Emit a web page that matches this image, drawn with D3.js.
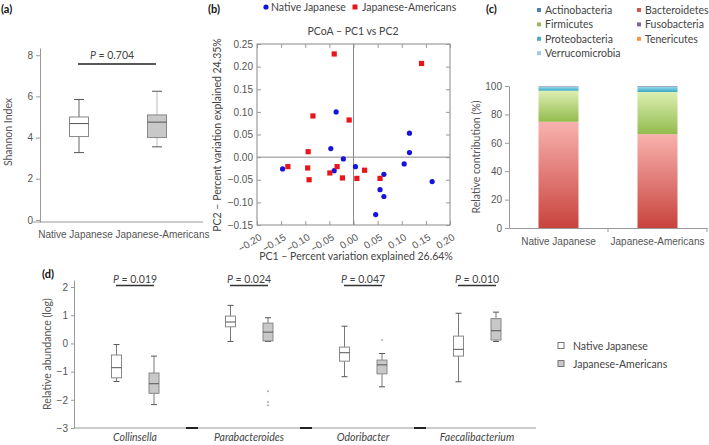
<!DOCTYPE html>
<html>
<head>
<meta charset="utf-8">
<script src="https://cdn.jsdelivr.net/npm/d3@7"></script>
<style>
  body { margin: 0; background: #fff; }
  svg { font-family: Lato, "Open Sans", sans-serif; }
  .axis text { font-size: 10px; fill: #555; }
  .axis path, .axis line { stroke: #999; }
</style>
</head>
<body>
<script>
// ---- data ----
var groups = ["Native Japanese", "Japanese-Americans"];

// (a) Shannon index: [min, q1, median, q3, max]
var shannonStats = [[3.27, 4.05, 4.68, 5.0, 5.85], [3.55, 4.0, 4.75, 5.1, 6.25]];
var shannonTicks = [0, 2, 4, 6, 8];
var shannonP = "0.704";

// (b) PCoA points [PC1, PC2]
var pcoaNative = [[-0.036, 0.100], [0.116, 0.053], [0.116, 0.010], [-0.047, 0.019], [-0.021, -0.004],
  [-0.147, -0.026], [-0.040, -0.030], [0.004, -0.021], [0.105, -0.015], [0.063, -0.038],
  [0.163, -0.054], [0.055, -0.072], [0.063, -0.087], [0.046, -0.127]];
var pcoaJA = [[-0.040, 0.228], [0.141, 0.207], [-0.084, 0.091], [-0.009, 0.082], [-0.094, 0.012],
  [-0.136, -0.021], [-0.095, -0.024], [-0.034, -0.021], [-0.049, -0.035], [0.023, -0.029],
  [-0.092, -0.050], [-0.023, -0.046], [0.007, -0.047], [0.055, -0.047]];
var pcoaXTicks = [-0.20, -0.15, -0.10, -0.05, 0.00, 0.05, 0.10, 0.15, 0.20];
var pcoaYTicks = [-0.15, -0.10, -0.05, 0.00, 0.05, 0.10, 0.15, 0.20, 0.25];

// (c) phylum contribution (%)
var phylaLegend = ["Actinobacteria", "Bacteroidetes", "Firmicutes", "Fusobacteria", "Proteobacteria", "Tenericutes", "Verrucomicrobia"];
var phylaStack = ["Bacteroidetes", "Firmicutes", "Proteobacteria", "Actinobacteria", "Verrucomicrobia", "Fusobacteria", "Tenericutes"];
var contribNative = [74.8, 21.9, 2.6, 0.3, 0.2, 0.1, 0.1];
var contribJA = [66.1, 29.7, 3.5, 0.4, 0.1, 0.1, 0.1];
var contribTicks = [0, 20, 40, 60, 80, 100];
var phylumColors = {
  Actinobacteria: "#4f81bd", Bacteroidetes: "#d9534f", Firmicutes: "#9bbb59", Fusobacteria: "#8064a2",
  Proteobacteria: "#4bacc6", Tenericutes: "#f79646", Verrucomicrobia: "#a5c5e8"
};

// (d) genus abundance (log): [min, q1, median, q3, max]
var genera = ["Collinsella", "Parabacteroides", "Odoribacter", "Faecalibacterium"];
var genusNative = [[-1.35, -1.22, -0.86, -0.41, -0.04], [0.07, 0.59, 0.76, 0.97, 1.35],
  [-1.18, -0.63, -0.33, -0.13, 0.61], [-1.36, -0.45, -0.21, 0.26, 1.07]];
var genusJA = [[-2.17, -1.77, -1.43, -1.05, -0.45], [0.07, 0.09, 0.40, 0.72, 0.91],
  [-1.54, -1.08, -0.76, -0.59, -0.36], [0.07, 0.12, 0.45, 0.88, 1.11]];
var genusOutliersJA = [[], [-1.70, -2.08, -2.19], [0.12], []];
var genusP = ["0.019", "0.024", "0.047", "0.010"];
var genusTicks = [-3, -2, -1, 0, 1, 2];

// ---- svg ----
var svg = d3.select("body").append("svg").attr("width", 709).attr("height", 445);

var defs = svg.append("defs");
function grad(id, top, bottom) {
  var g = defs.append("linearGradient").attr("id", id).attr("x1", 0).attr("x2", 0).attr("y1", 0).attr("y2", 1);
  g.append("stop").attr("offset", "0%").attr("stop-color", top);
  g.append("stop").attr("offset", "100%").attr("stop-color", bottom);
}
grad("g-Bacteroidetes", "#f8b2ae", "#c9433d");
grad("g-Firmicutes", "#dcefb2", "#93bb4e");
grad("g-Proteobacteria", "#8fd8ef", "#3aa8c4");

function panelLabel(x, y, t) {
  svg.append("text").attr("x", x).attr("y", y).attr("font-size", 11).attr("font-weight", "bold")
    .attr("fill", "#111").text(t);
}
panelLabel(1, 13, "(a)");
panelLabel(208, 13, "(b)");
panelLabel(486, 13, "(c)");
panelLabel(42, 278, "(d)");

function drawBox(g, cx, w, capW, s, fill, lineCol) {
  g.append("line").attr("x1", cx).attr("x2", cx).attr("y1", s.y(s.v[4])).attr("y2", s.y(s.v[3])).attr("stroke", lineCol);
  g.append("line").attr("x1", cx).attr("x2", cx).attr("y1", s.y(s.v[1])).attr("y2", s.y(s.v[0])).attr("stroke", lineCol);
  g.append("line").attr("x1", cx - capW / 2).attr("x2", cx + capW / 2).attr("y1", s.y(s.v[4])).attr("y2", s.y(s.v[4])).attr("stroke", "#555");
  g.append("line").attr("x1", cx - capW / 2).attr("x2", cx + capW / 2).attr("y1", s.y(s.v[0])).attr("y2", s.y(s.v[0])).attr("stroke", "#555");
  g.append("rect").attr("x", cx - w / 2).attr("width", w)
    .attr("y", s.y(s.v[3])).attr("height", s.y(s.v[1]) - s.y(s.v[3]))
    .attr("fill", fill).attr("stroke", "#888");
  g.append("line").attr("x1", cx - w / 2).attr("x2", cx + w / 2).attr("y1", s.y(s.v[2])).attr("y2", s.y(s.v[2])).attr("stroke", "#555");
}

// ---- (a) ----
var ya = d3.scaleLinear().domain([-0.1, 8.35]).range([222, 48]);
var xa = d3.scalePoint().domain(groups).range([40, 200]).padding(0.5);
var ga = svg.append("g");
ga.append("g").attr("class", "axis").attr("transform", "translate(40,0)")
  .call(d3.axisLeft(ya).tickValues(shannonTicks).tickSize(4).tickSizeOuter(0));
ga.append("g").attr("class", "axis").attr("transform", "translate(0,222)")
  .call(d3.axisBottom(xa).tickSize(0).tickPadding(9))
  .call(function (s) {
    s.select(".domain").attr("d", "M32,0H203");
    s.selectAll(".tick text").attr("dx", function (d, i) { return i ? 2 : -5; });
  });
shannonStats.forEach(function (v, i) {
  drawBox(ga, xa(groups[i]) - 1 - 2 * i, 19, 10, { y: ya, v: v }, i ? "#c8c8c8" : "#fff", i ? "#bbb" : "#666");
});
ga.append("line").attr("x1", xa(groups[0]) - 2).attr("x2", xa(groups[1]) - 4)
  .attr("y1", 64).attr("y2", 64).attr("stroke", "#222").attr("stroke-width", 1.3);
var pa = ga.append("text").attr("x", 112).attr("y", 59).attr("text-anchor", "middle").attr("font-size", 10.5).attr("fill", "#444");
pa.append("tspan").attr("font-style", "italic").text("P");
pa.append("tspan").text(" = " + shannonP);
ga.append("text").attr("transform", "translate(12,132) rotate(-90)").attr("text-anchor", "middle")
  .attr("font-size", 10.5).attr("fill", "#555").text("Shannon Index");

// ---- (b) ----
var xb = d3.scaleLinear().domain([-0.2, 0.2]).range([257, 450]);
var yb = d3.scaleLinear().domain([-0.15, 0.25]).range([225, 44]);
var gb = svg.append("g");
var fmt = d3.format(".2f");
gb.append("rect").attr("x", 257).attr("y", 44).attr("width", 193).attr("height", 181).attr("fill", "none").attr("stroke", "#888");
gb.append("line").attr("x1", xb(0)).attr("x2", xb(0)).attr("y1", 44).attr("y2", 225).attr("stroke", "#888");
gb.append("line").attr("x1", 257).attr("x2", 450).attr("y1", yb(0)).attr("y2", yb(0)).attr("stroke", "#888");
function inward(sel) { sel.select(".domain").remove(); sel.selectAll(".tick line").attr("stroke", "#222"); }
gb.append("g").attr("class", "axis").attr("transform", "translate(257,0)")
  .call(d3.axisLeft(yb).tickValues(pcoaYTicks).tickSize(-4).tickPadding(4).tickFormat(fmt)).call(inward);
gb.append("g").attr("class", "axis").attr("transform", "translate(450,0)")
  .call(d3.axisRight(yb).tickValues(pcoaYTicks).tickSize(-4).tickFormat("")).call(inward);
gb.append("g").attr("class", "axis").attr("transform", "translate(0,44)")
  .call(d3.axisTop(xb).tickValues(pcoaXTicks).tickSize(-4).tickFormat("")).call(inward);
var xbAxis = gb.append("g").attr("class", "axis").attr("transform", "translate(0,225)")
  .call(d3.axisBottom(xb).tickValues(pcoaXTicks).tickSize(-4).tickFormat(fmt)).call(inward);
xbAxis.selectAll(".tick text").attr("text-anchor", "end").attr("dy", 0).attr("y", 0)
  .attr("transform", "translate(5,14) rotate(-32)");
gb.selectAll(".pt-n").data(pcoaNative).enter().append("circle")
  .attr("cx", function (d) { return xb(d[0]); }).attr("cy", function (d) { return yb(d[1]); })
  .attr("r", 2.6).attr("fill", "#1414dc");
gb.selectAll(".pt-j").data(pcoaJA).enter().append("rect")
  .attr("x", function (d) { return xb(d[0]) - 2.6; }).attr("y", function (d) { return yb(d[1]) - 2.6; })
  .attr("width", 5.2).attr("height", 5.2).attr("fill", "#e8161c");
gb.append("text").attr("x", 353).attr("y", 35).attr("text-anchor", "middle").attr("font-size", 10.5).attr("fill", "#444")
  .text("PCoA \u2013 PC1 vs PC2");
gb.append("text").attr("x", 356).attr("y", 260).attr("text-anchor", "middle").attr("font-size", 10.5).attr("fill", "#444")
  .text("PC1 \u2013 Percent variation explained 26.64%");
gb.append("text").attr("transform", "translate(221,135) rotate(-90)").attr("text-anchor", "middle")
  .attr("font-size", 10.5).attr("fill", "#444").text("PC2 \u2013 Percent variation explained 24.35%");
gb.append("circle").attr("cx", 266).attr("cy", 7).attr("r", 2.6).attr("fill", "#1414dc");
gb.append("text").attr("x", 271).attr("y", 11).attr("font-size", 10.5).attr("fill", "#444").text(groups[0]);
gb.append("rect").attr("x", 352.5).attr("y", 4.5).attr("width", 5).attr("height", 5).attr("fill", "#e8161c");
gb.append("text").attr("x", 362).attr("y", 11).attr("font-size", 10.5).attr("fill", "#444").text(groups[1]);

// ---- (c) ----
var yc = d3.scaleLinear().domain([0, 100]).range([228, 86]);
var xc = d3.scaleBand().domain(groups).range([509, 707]);
var gc = svg.append("g");
gc.append("g").attr("class", "axis").attr("transform", "translate(509,0)")
  .call(d3.axisLeft(yc).tickValues(contribTicks).tickSize(4).tickSizeOuter(0));
var xcAxis = gc.append("g").attr("class", "axis").attr("transform", "translate(0,228)")
  .call(d3.axisBottom(xc).tickSize(0).tickSizeOuter(0).tickPadding(10));
groups.forEach(function (g) {
  var bx = xc(g) + xc.bandwidth();
  xcAxis.append("line").attr("x1", bx).attr("x2", bx).attr("y1", 0).attr("y2", 4).attr("stroke", "#999");
});
var stackRows = groups.map(function (g, i) {
  var row = { group: g }, vals = i ? contribJA : contribNative;
  phylaStack.forEach(function (p, k) { row[p] = vals[k]; });
  return row;
});
var series = d3.stack().keys(phylaStack)(stackRows);
gc.selectAll(".layer").data(series).enter().append("g")
  .attr("fill", function (s) { return ["Bacteroidetes", "Firmicutes", "Proteobacteria"].indexOf(s.key) >= 0 ? "url(#g-" + s.key + ")" : phylumColors[s.key]; })
  .selectAll("rect").data(function (s) { return s; }).enter().append("rect")
  .attr("x", function (d) { return xc(d.data.group) + xc.bandwidth() / 2 - 20; })
  .attr("width", 40)
  .attr("y", function (d) { return yc(d[1]); })
  .attr("height", function (d) { return yc(d[0]) - yc(d[1]); });
gc.append("text").attr("transform", "translate(480,157) rotate(-90)").attr("text-anchor", "middle")
  .attr("font-size", 10.5).attr("fill", "#555").text("Relative contribution (%)");
var lc = gc.selectAll(".lg").data(phylaLegend).enter().append("g")
  .attr("transform", function (d, i) { return "translate(" + (i % 2 ? 639 : 539) + "," + (10 + Math.floor(i / 2) * 14.4) + ")"; });
lc.append("rect").attr("x", -2).attr("y", -2).attr("width", 4).attr("height", 4).attr("fill", function (d) { return phylumColors[d]; });
lc.append("text").attr("x", 6).attr("y", 4).attr("font-size", 10.5).attr("fill", "#444").text(function (d) { return d; });

// ---- (d) ----
var yd = d3.scaleLinear().domain([-3, 2.25]).range([428, 280]);
var xd = d3.scaleBand().domain(genera).range([78, 534]);
var gd = svg.append("g");
gd.append("g").attr("class", "axis").attr("transform", "translate(74,0)")
  .call(d3.axisLeft(yd).tickValues(genusTicks).tickSize(3).tickSizeOuter(0).tickFormat(d3.format("d")));
gd.append("line").attr("x1", 74).attr("x2", 536).attr("y1", yd(-3)).attr("y2", yd(-3)).attr("stroke", "#999");
genera.slice(1).forEach(function (g) {
  gd.append("line").attr("x1", xd(g) - 6).attr("x2", xd(g) + 6).attr("y1", yd(-3)).attr("y2", yd(-3))
    .attr("stroke", "#222").attr("stroke-width", 2);
});
genera.forEach(function (g, i) {
  var c = xd(g) + xd.bandwidth() / 2;
  drawBox(gd, c - 18.5, 10, 6, { y: yd, v: genusNative[i] }, "#fff", "#777");
  drawBox(gd, c + 19, 10, 6, { y: yd, v: genusJA[i] }, "#c8c8c8", "#777");
  genusOutliersJA[i].forEach(function (o) {
    gd.append("circle").attr("cx", c + 19).attr("cy", yd(o)).attr("r", 1).attr("fill", "#aaa");
  });
  gd.append("line").attr("x1", c - 19).attr("x2", c + 19).attr("y1", 285.5).attr("y2", 285.5)
    .attr("stroke", "#333").attr("stroke-width", 1.5);
  var t = gd.append("text").attr("x", c).attr("y", 283).attr("text-anchor", "middle").attr("font-size", 10.5).attr("fill", "#444");
  t.append("tspan").attr("font-style", "italic").text("P");
  t.append("tspan").text(" = " + genusP[i]);
  gd.append("text").attr("x", c).attr("y", 441).attr("text-anchor", "middle").attr("font-style", "italic")
    .attr("font-size", 10.5).attr("fill", "#444").text(g);
});
gd.append("text").attr("transform", "translate(51,354) rotate(-90)").attr("text-anchor", "middle")
  .attr("font-size", 10.5).attr("fill", "#555").text("Relative abundance (log)");
groups.forEach(function (g, i) {
  gd.append("rect").attr("x", 558).attr("y", 342.5 + i * 18).attr("width", 6).attr("height", 6)
    .attr("fill", i ? "#c8c8c8" : "#fff").attr("stroke", "#777");
  gd.append("text").attr("x", 573).attr("y", 349.5 + i * 18).attr("font-size", 10.5).attr("fill", "#444").text(g);
});
</script>
</body>
</html>
